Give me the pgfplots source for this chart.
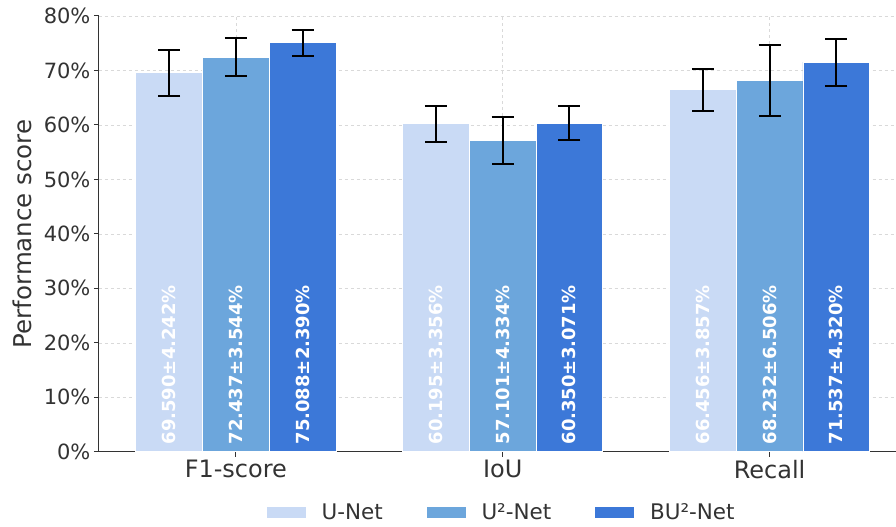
\documentclass[border=0pt]{standalone}
\usepackage{fontspec}
\setmainfont{DejaVu Sans}
\usepackage{pgfplots}
\usepackage{pgfplotstable}
\pgfplotsset{compat=1.18}

\definecolor{cUnet}{HTML}{C9DAF5}
\definecolor{cUtwo}{HTML}{6CA6DC}
\definecolor{cBUtwo}{HTML}{3C78D8}
\definecolor{axgray}{HTML}{333333}

% x: category position (0 = F1-score, 1 = IoU, 2 = Recall) plus bar offset
\pgfplotstableread{
x     y      err
-0.25 69.590 4.242
0.75  60.195 3.356
1.75  66.456 3.857
}\unet
\pgfplotstableread{
x     y      err
0.00  72.437 3.544
1.00  57.101 4.334
2.00  68.232 6.506
}\utwonet
\pgfplotstableread{
x     y      err
0.25  75.088 2.390
1.25  60.350 3.071
2.25  71.537 4.320
}\butwonet

\pgfplotsset{
  barstyle/.style={
    ybar, bar shift=0pt, bar width=0.25, draw=white, line width=0.8pt,
    error bars/y dir=both, error bars/y explicit,
    error bars/error bar style={line width=2pt, black},
    error bars/error mark options={line width=2pt, mark size=11pt, black, rotate=90},
  },
  valuelabel/.style={
    draw=none, mark=none, forget plot,
    point meta=explicit,
    visualization depends on={\thisrow{err}\as\errval},
    nodes near coords={\pgfmathprintnumber[fixed,fixed zerofill,precision=3]{\pgfplotspointmeta}±\pgfmathprintnumber[fixed,fixed zerofill,precision=3]{\errval}\%},
    every node near coord/.style={rotate=90, anchor=west, inner sep=0pt,
      text=white, font=\fontsize{18}{21}\selectfont\bfseries},
  },
}

\begin{document}
\begin{tikzpicture}
\begin{axis}[
  name=ax,
  scale only axis,
  width=797pt, height=436pt,
  xmin=-0.513, xmax=2.472,
  ymin=0, ymax=80,
  axis x line*=bottom, axis y line*=left,
  axis line style={axgray, line width=1pt},
  tick style={axgray, line width=1pt},
  tick align=outside,
  major tick length=5pt,
  xtick={0,1,2},
  xticklabels={F1-score, IoU, Recall},
  ytick={0,10,...,80},
  yticklabel={\pgfmathprintnumber{\tick}\%},
  /pgf/number format/assume math mode=true,
  yticklabel style={font=\fontsize{21}{25}\selectfont, text=axgray},
  xticklabel style={font=\fontsize{24}{28}\selectfont, text=axgray},
  xmajorgrids, ymajorgrids,
  grid style={dashed, gray!30, line width=0.6pt},
  ylabel={Performance score},
  ylabel style={font=\fontsize{24.5}{28}\selectfont, text=axgray,
    at={(axis description cs:-0.0960,0.5)}, anchor=center},
  legend style={at={(0.505,-0.140)}, anchor=center, draw=none, fill=none,
    legend columns=3, font=\fontsize{21.5}{25}\selectfont, text=axgray,
    /tikz/every even column/.append style={column sep=41pt}},
  legend image code/.code={\fill[#1] (0pt,-6pt) rectangle (40pt,6pt); \path (53pt,0pt);},
  clip=false,
]
\addplot[barstyle, fill=cUnet] table[x=x, y=y, y error=err] {\unet};
\addlegendentry{U-Net}
\addplot[barstyle, fill=cUtwo] table[x=x, y=y, y error=err] {\utwonet};
\addlegendentry{U²-Net}
\addplot[barstyle, fill=cBUtwo] table[x=x, y=y, y error=err] {\butwonet};
\addlegendentry{BU²-Net}

\addplot[valuelabel] table[x=x, y expr=1.3, meta=y] {\unet};
\addplot[valuelabel] table[x=x, y expr=1.3, meta=y] {\utwonet};
\addplot[valuelabel] table[x=x, y expr=1.3, meta=y] {\butwonet};
\end{axis}
\path ([shift={(-99pt,-75pt)}]ax.south west) rectangle ([shift={(0pt,16pt)}]ax.north east);
\end{tikzpicture}
\end{document}
